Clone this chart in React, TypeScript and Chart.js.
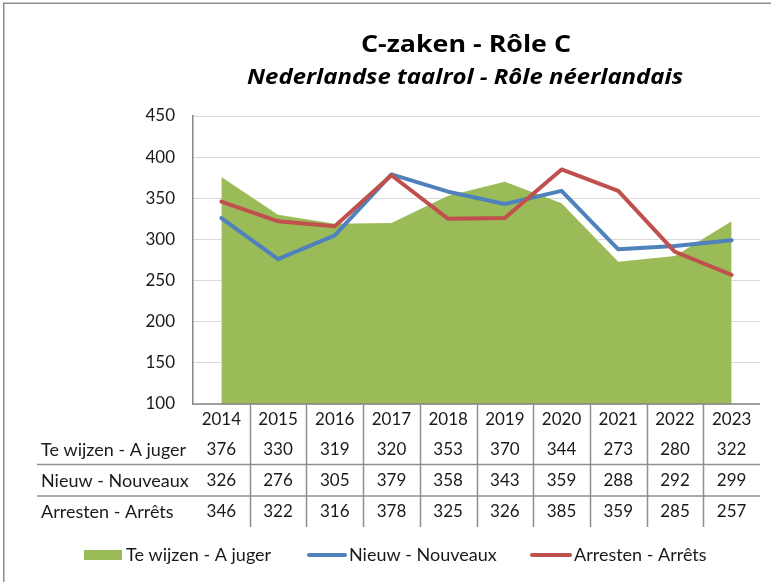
import React, { useEffect, useRef } from "react";
import { Chart, registerables } from "chart.js";

Chart.register(...registerables);

const years = ["2014", "2015", "2016", "2017", "2018", "2019", "2020", "2021", "2022", "2023"];
const teWijzen = [376, 330, 319, 320, 353, 370, 344, 273, 280, 322];
const nieuw = [326, 276, 305, 379, 358, 343, 359, 288, 292, 299];
const arresten = [346, 322, 316, 378, 325, 326, 385, 359, 285, 257];
const seriesNames = ["Te wijzen - A juger", "Nieuw - Nouveaux", "Arresten - Arrêts"];
const title = "C-zaken - Rôle C";
const subtitle = "Nederlandse taalrol - Rôle néerlandais";

const GREEN = "#9BBB59";
const BLUE = "#4F81BD";
const RED = "#C0504D";
const FONT = "Lato";
const TFONT = "'Open Sans'";

function fitText(ctx: CanvasRenderingContext2D, text: string, cx: number, cy: number, w: number) {
  const m = ctx.measureText(text).width;
  const s = w / m;
  ctx.save();
  ctx.translate(cx, cy);
  ctx.scale(s, 1);
  ctx.fillText(text, 0, 0);
  ctx.restore();
}

const customPlugin = {
  id: "customDraw",
  afterDraw(chart: any) {
    const ctx = chart.ctx as CanvasRenderingContext2D;
    const xs = chart.scales.x;
    const area = chart.chartArea;
    ctx.save();
    // outer border
    ctx.strokeStyle = "#8c8c8c";
    ctx.lineWidth = 1.5;
    ctx.strokeRect(3.75, 3.25, 800, 700);

    // x axis line
    ctx.strokeStyle = "#868686";
    ctx.lineWidth = 1.5;
    ctx.beginPath();
    ctx.moveTo(area.left, area.bottom);
    ctx.lineTo(area.right, area.bottom);
    ctx.stroke();

    // titles
    ctx.fillStyle = "#000";
    ctx.textAlign = "center";
    ctx.textBaseline = "middle";
    ctx.font = `bold 24px ${TFONT}`;
    fitText(ctx, title, 466, 45, 210);
    ctx.font = `italic bold 22px ${TFONT}`;
    fitText(ctx, subtitle, 465, 78, 436);

    // table
    const half = (xs.getPixelForValue(1) - xs.getPixelForValue(0)) / 2;
    ctx.strokeStyle = "#8f8f8f";
    ctx.lineWidth = 1.5;
    for (let i = 1; i < years.length; i++) {
      const bx = Math.round(xs.getPixelForValue(i) - half) + 0.5;
      ctx.beginPath();
      ctx.moveTo(bx, area.bottom);
      ctx.lineTo(bx, 527);
      ctx.stroke();
    }
    const rowLines = [464.5, 496];
    rowLines.forEach((y) => {
      ctx.beginPath();
      ctx.moveTo(37, y);
      ctx.lineTo(area.right, y);
      ctx.stroke();
    });

    ctx.fillStyle = "#1a1a1a";
    ctx.textAlign = "center";
    ctx.font = `17px ${FONT}`;
    years.forEach((yr, i) => ctx.fillText(yr, xs.getPixelForValue(i), 420));
    const rows = [teWijzen, nieuw, arresten];
    const rowY = [450, 481, 512];
    rows.forEach((vals, r) => {
      ctx.textAlign = "center";
      ctx.font = `17px ${FONT}`;
      vals.forEach((v, i) => ctx.fillText(String(v), xs.getPixelForValue(i), rowY[r]));
      ctx.textAlign = "left";
      ctx.font = `18px ${FONT}`;
      ctx.fillText(seriesNames[r], 41, rowY[r]);
    });

    // legend
    const ly = 555;
    ctx.fillStyle = GREEN;
    ctx.fillRect(84, 550, 38, 10);
    ctx.lineCap = "round";
    ctx.lineWidth = 4;
    ctx.strokeStyle = BLUE;
    ctx.beginPath();
    ctx.moveTo(309, ly);
    ctx.lineTo(345, ly);
    ctx.stroke();
    ctx.strokeStyle = RED;
    ctx.beginPath();
    ctx.moveTo(532, ly);
    ctx.lineTo(570, ly);
    ctx.stroke();
    ctx.fillStyle = "#1a1a1a";
    ctx.textAlign = "left";
    ctx.font = `18px ${FONT}`;
    ctx.fillText(seriesNames[0], 126, ly);
    ctx.fillText(seriesNames[1], 349, ly);
    ctx.fillText(seriesNames[2], 574, ly);
    ctx.restore();
  },
};

export default function App() {
  const ref = useRef<HTMLCanvasElement>(null);
  useEffect(() => {
    document.body.style.margin = "0";
    const chart = new Chart(ref.current!, {
      type: "line",
      data: {
        labels: years,
        datasets: [
          {
            label: seriesNames[0],
            data: teWijzen,
            fill: "start",
            backgroundColor: GREEN,
            borderWidth: 0,
            borderColor: GREEN,
            pointRadius: 0,
            order: 3,
          },
          {
            label: seriesNames[1],
            data: nieuw,
            borderColor: BLUE,
            borderWidth: 4,
            borderJoinStyle: "round",
            borderCapStyle: "round",
            pointRadius: 0,
            fill: false,
            order: 2,
          },
          {
            label: seriesNames[2],
            data: arresten,
            borderColor: RED,
            borderWidth: 4,
            borderJoinStyle: "round",
            borderCapStyle: "round",
            pointRadius: 0,
            fill: false,
            order: 1,
          },
        ],
      },
      options: {
        animation: false,
        responsive: false,
        layout: { padding: { left: 0, top: 116, right: 11, bottom: 178 } },
        plugins: { legend: { display: false }, tooltip: { enabled: false }, title: { display: false } },
        scales: {
          x: { display: false, offset: true },
          y: {
            min: 100,
            max: 450,
            ticks: { stepSize: 50, padding: 18, color: "#1a1a1a", font: { family: FONT, size: 17 } },
            grid: { color: "#d9d9d9", drawTicks: false, lineWidth: 1 },
            border: { display: true, color: "#868686", width: 1.5 },
            afterFit: (s: any) => {
              s.width = 193;
            },
          },
        },
      },
      plugins: [customPlugin],
    });
    return () => chart.destroy();
  }, []);
  return (
    <div style={{ position: "absolute", left: 0, top: 0, width: 771, height: 582, background: "#fff" }}>
      <canvas ref={ref} width={771} height={582} style={{ display: "block" }} />
    </div>
  );
}
